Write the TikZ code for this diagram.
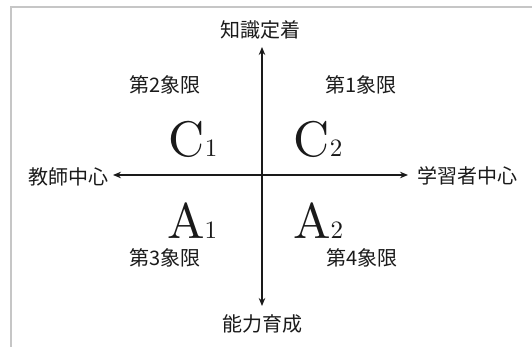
\documentclass[tikz,border=0pt]{standalone}
\usepackage{fontspec}
\newfontfamily\jpfont{Noto Sans CJK JP}
\newfontfamily\bigfont{lmroman10-regular.otf}
\usepackage{tikz}
\usetikzlibrary{arrows.meta,positioning}
\definecolor{cFrame}{HTML}{C6C6C6}
\definecolor{cInk}{HTML}{1A1A1A}
\tikzset{
  axis/.style  = {cInk, line width=1.5pt,
                  {Stealth[length=8pt,width=6.5pt]}-{Stealth[length=8pt,width=6.5pt]}},
  jlbl/.style  = {inner sep=0pt, text=cInk, font=\jpfont\fontsize{20}{22}\selectfont},
  quad/.style  = {jlbl},
  big/.style   = {inner sep=0pt, anchor=base, text=cInk, font=\bigfont\fontsize{50}{56}\selectfont},
  frame/.style = {cFrame, line width=2pt},
}
\newcommand{\qidx}[1]{{\fontsize{25}{28}\selectfont #1}}

\begin{document}
\begin{tikzpicture}[x=1pt, y=-1pt]
  \useasboundingbox[fill=white] (0,0) rectangle (532,347);
  \draw[frame] (532,7) -- (11,7) -- (11,347);
  % axis labels
  \node[jlbl] (top) at (260,30)  {知識定着};
  \node[jlbl] (bot) at (262,324) {能力育成};
  \node[jlbl] (lft) at (68,177)  {教師中心};
  \node[jlbl] (rgt) at (467,176) {学習者中心};
  \coordinate (tipT) at (262,47);
  \coordinate (tipB) at (262,306);
  \coordinate (tipL) at (113,175);
  \coordinate (tipR) at (408,175);
  \draw[axis] (tipT) -- (tipB);
  \draw[axis] (tipL) -- (tipR);
  % quadrants
  \node[quad] (q2) at (165,85)  {第2象限};
  \node[quad] (q1) at (361,85)  {第1象限};
  \node[quad] (q3) at (165,258) {第3象限};
  \node[quad] (q4) at (362,258) {第4象限};
  \node[big] (c1) at (193,157) {C\qidx{1}};
  \node[big] (c2) at (318,157) {C\qidx{2}};
  \node[big] (a1) at (192,238) {A\qidx{1}};
  \node[big] (a2) at (318,238) {A\qidx{2}};
\end{tikzpicture}
\end{document}
